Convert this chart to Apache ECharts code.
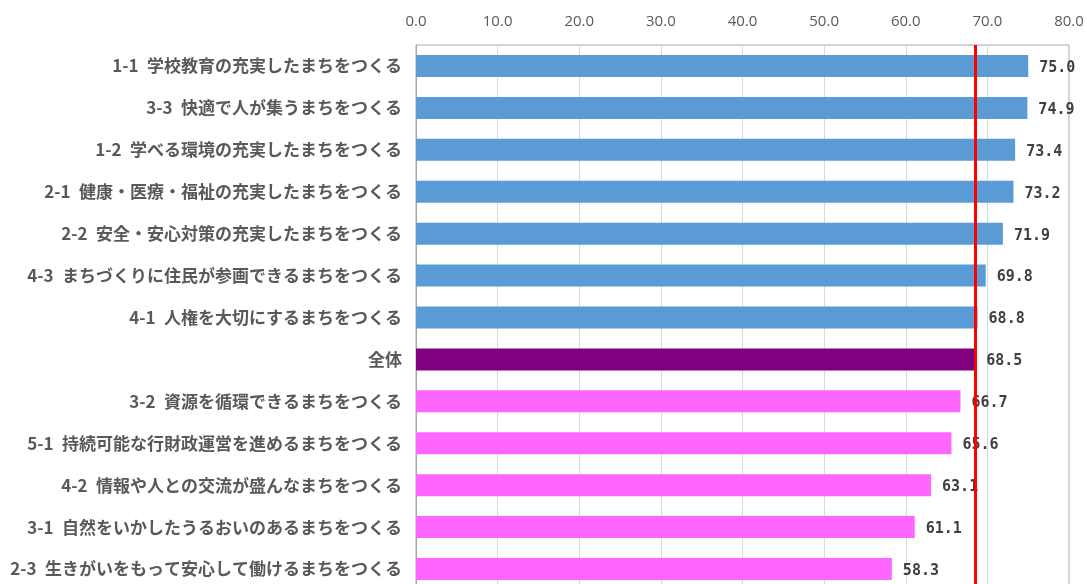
<!DOCTYPE html>
<html><head><meta charset="utf-8">
<script src="https://cdn.jsdelivr.net/npm/echarts@6/dist/echarts.min.js"></script>
<style>html,body{margin:0;padding:0;background:#fff;}#c{width:1087px;height:584px;}</style>
</head><body><div id="c"></div>
<script>
const categories = [
  '1-1 学校教育の充実したまちをつくる',
  '3-3 快適で人が集うまちをつくる',
  '1-2 学べる環境の充実したまちをつくる',
  '2-1 健康・医療・福祉の充実したまちをつくる',
  '2-2 安全・安心対策の充実したまちをつくる',
  '4-3 まちづくりに住民が参画できるまちをつくる',
  '4-1 人権を大切にするまちをつくる',
  '全体',
  '3-2 資源を循環できるまちをつくる',
  '5-1 持続可能な行財政運営を進めるまちをつくる',
  '4-2 情報や人との交流が盛んなまちをつくる',
  '3-1 自然をいかしたうるおいのあるまちをつくる',
  '2-3 生きがいをもって安心して働けるまちをつくる'
];
const values = [75.0, 74.9, 73.4, 73.2, 71.9, 69.8, 68.8, 68.5, 66.7, 65.6, 63.1, 61.1, 58.3];
const groups = ['high','high','high','high','high','high','high','total','low','low','low','low','low'];
const overall = 68.5;
const xTicks = [0, 10, 20, 30, 40, 50, 60, 70, 80];

const groupColors = {high: '#5B9BD5', total: '#800080', low: '#FF66FF'};

const chart = echarts.init(document.getElementById('c'));
chart.setOption({
  animation: false,
  grid: {left: 416, right: 18, top: 45, height: 545, outerBoundsMode: 'none', containLabel: false,
    show: true, borderColor: '#a6a6a6', borderWidth: 1, backgroundColor: 'transparent'},
  xAxis: {
    type: 'value', position: 'top', min: xTicks[0], max: xTicks[xTicks.length-1], interval: 10,
    axisLine: {show: false}, axisTick: {show: false},
    splitLine: {show: true, lineStyle: {color: '#d9d9d9', width: 1}},
    axisLabel: {formatter: v => v.toFixed(1), color: '#595959', fontSize: 15, fontFamily: 'Open Sans', margin: 16}
  },
  yAxis: {
    type: 'category', data: categories, inverse: true,
    axisLine: {show: true, lineStyle: {color: '#a6a6a6'}}, axisTick: {show: false},
    axisLabel: {color: '#595959', fontSize: 17, fontWeight: 'bold', fontFamily: 'Noto Sans CJK JP', margin: 14,
      formatter: v => v.replace(' ', '\u2002')}
  },
  series: [{
    type: 'bar', barWidth: 22,
    data: values.map((v, i) => ({value: v, itemStyle: {color: groupColors[groups[i]]}})),
    label: {show: true, position: 'right', distance: 11, offset: [0, 2], formatter: p => p.value.toFixed(1),
      color: '#404040', fontSize: 15, fontWeight: 'bold', fontFamily: 'DejaVu Sans Mono'},
    markLine: {
      silent: true, symbol: ['none', 'none'], label: {show: false}, z: 10,
      lineStyle: {color: '#ff0000', width: 3, type: 'solid', opacity: 1},
      emphasis: {disabled: true},
      data: [{xAxis: overall, lineStyle: {color: '#ff0000', opacity: 1}}]
    },
    z: 2
  }]
});
</script></body></html>
